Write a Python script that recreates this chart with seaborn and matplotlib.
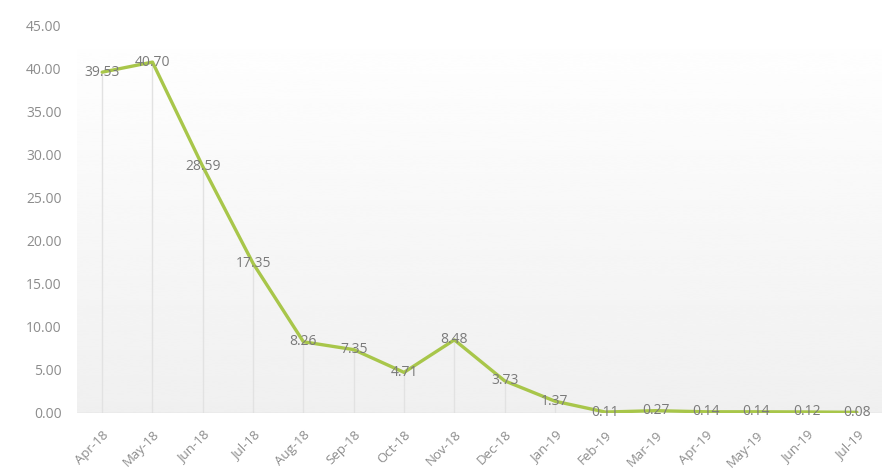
import numpy as np
import pandas as pd
import matplotlib
matplotlib.use("Agg")
import matplotlib.pyplot as plt
import seaborn as sns

months = ["Apr-18", "May-18", "Jun-18", "Jul-18", "Aug-18", "Sep-18", "Oct-18", "Nov-18",
          "Dec-18", "Jan-19", "Feb-19", "Mar-19", "Apr-19", "May-19", "Jun-19", "Jul-19"]
values = [39.53, 40.70, 28.59, 17.35, 8.26, 7.35, 4.71, 8.48,
          3.73, 1.37, 0.11, 0.27, 0.14, 0.14, 0.12, 0.08]
y_ticks = [0, 5, 10, 15, 20, 25, 30, 35, 40, 45]

sns.set_style("white")
plt.rcParams["font.family"] = ["Open Sans", "DejaVu Sans"]

df = pd.DataFrame({"idx": np.arange(len(months)), "month": months, "value": values})

fig = plt.figure(figsize=(8.85, 4.72), dpi=100)
ax = fig.add_axes([0.087, 0.125, 0.9096, 0.822])

xmin, xmax = -0.5, len(months) - 0.5
ymin, ymax = 0, 45

# soft vertical gradient behind the plot: white at top, pale grey at the base
grad = np.linspace(0.94, 1.0, 256).reshape(-1, 1)
ax.imshow(grad, extent=[xmin, xmax, ymin, ymax], origin="lower", aspect="auto",
          cmap="gray", vmin=0, vmax=1, zorder=0, interpolation="bicubic")

# drop lines from each point to the baseline
ax.vlines(df["idx"], 0, df["value"], color="#e2e2e2", linewidth=1.0, zorder=1)
ax.axhline(0, color="#d9d9d9", linewidth=1.0, zorder=1)

sns.lineplot(data=df, x="idx", y="value", ax=ax, color="#a8c64a",
             linewidth=2.4, zorder=3)

for i, v in zip(df["idx"], df["value"]):
    ax.text(i, v, f"{v:.2f}", ha="center", va="center", fontsize=10,
            color="#7a7a7a", zorder=4)

ax.set_xlim(xmin, xmax)
ax.set_ylim(ymin, ymax)
ax.set_yticks(y_ticks)
ax.set_yticklabels([f"{t:.2f}" for t in y_ticks])
ax.set_xticks(df["idx"])
ax.set_xticklabels(months, rotation=45, ha="right", rotation_mode="anchor")
ax.tick_params(axis="both", length=0, labelcolor="#8c8c8c")
ax.tick_params(axis="y", pad=11, labelsize=10)
ax.tick_params(axis="x", pad=11, labelsize=9.5)
ax.set_xlabel("")
ax.set_ylabel("")
for s in ax.spines.values():
    s.set_visible(False)

fig.savefig("out.png", dpi=100, facecolor="white")
